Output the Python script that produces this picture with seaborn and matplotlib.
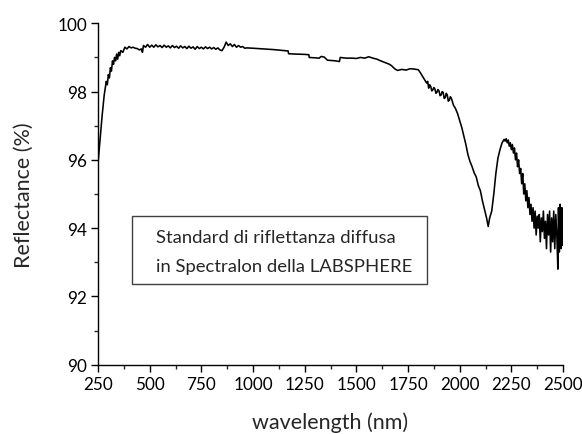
import pandas as pd
import matplotlib.pyplot as plt
import seaborn as sns
from matplotlib.patches import Rectangle
from matplotlib.ticker import MultipleLocator

# 1. 데이터
wavelength = [
    250, 260, 270, 280, 290, 295, 300, 305, 310, 315, 320, 325, 330, 335, 340, 345,
    350, 355, 360, 370, 380, 390, 400, 410, 420, 430, 440, 450, 460, 465, 470, 480,
    490, 500, 510, 520, 530, 540, 550, 560, 570, 580, 590, 600, 610, 620, 630, 640,
    650, 660, 670, 680, 690, 700, 710, 720, 730, 740, 750, 760, 770, 780, 790, 800,
    810, 820, 830, 840, 850, 860, 870, 880, 890, 900, 910, 920, 930, 940, 950, 960,
    970, 1000, 1050, 1100, 1150, 1170, 1172, 1200, 1250, 1270, 1272, 1300, 1320, 1330,
    1345, 1360, 1400, 1418, 1422, 1450, 1480, 1500, 1520, 1540, 1560, 1580, 1600, 1610,
    1640, 1660, 1670, 1680, 1690, 1700, 1720, 1740, 1760, 1780, 1800, 1810, 1820, 1830,
    1840, 1845, 1850, 1855, 1860, 1865, 1870, 1875, 1880, 1885, 1890, 1895, 1900, 1905,
    1910, 1915, 1920, 1925, 1930, 1935, 1940, 1945, 1950, 1955, 1960, 1970,
    1980, 1990, 2000, 2010, 2020, 2030, 2040, 2050, 2060, 2070, 2080, 2090, 2100, 2110,
    2120, 2130, 2138, 2145, 2155, 2165, 2175, 2185, 2195, 2205, 2215, 2220, 2225, 2230,
    2235, 2240, 2245, 2250, 2255, 2260, 2265, 2270, 2275, 2280, 2285, 2290, 2295, 2300,
    2305, 2310, 2315, 2320, 2325, 2330, 2335, 2340, 2345, 2350, 2355, 2360, 2365, 2370,
    2375, 2380, 2385, 2390, 2395, 2400, 2405, 2410, 2415, 2420, 2425, 2430, 2435, 2440,
    2445, 2450, 2455, 2460, 2465, 2470, 2475, 2478, 2482, 2486, 2490, 2494, 2497, 2500,
]
reflectance = [
    95.9, 96.6, 97.3, 97.9, 98.3, 98.2, 98.5, 98.4, 98.7, 98.6, 98.9, 98.8, 99.0, 98.9, 99.1, 98.95,
    99.15, 99.05, 99.2, 99.15, 99.3, 99.25, 99.32, 99.28, 99.3, 99.27, 99.26, 99.22, 99.25, 99.15, 99.35, 99.3,
    99.38, 99.3, 99.36, 99.3, 99.37, 99.31, 99.35, 99.29, 99.36, 99.3, 99.34, 99.28, 99.35, 99.29, 99.33, 99.27,
    99.34, 99.28, 99.32, 99.26, 99.33, 99.27, 99.31, 99.24, 99.32, 99.26, 99.3, 99.25, 99.31, 99.26, 99.3, 99.25,
    99.29, 99.24, 99.28, 99.22, 99.2, 99.3, 99.45, 99.35, 99.4, 99.32, 99.38, 99.3, 99.35, 99.3, 99.32, 99.27,
    99.28, 99.27, 99.25, 99.23, 99.2, 99.19, 99.11, 99.1, 99.09, 99.08, 99.0, 98.99, 98.98, 99.03,
    99.01, 98.92, 98.9, 98.88, 99.0, 98.98, 98.98, 98.97, 99.0, 98.98, 99.02, 98.98, 98.95, 98.92,
    98.85, 98.8, 98.76, 98.7, 98.65, 98.62, 98.65, 98.63, 98.67, 98.66, 98.64, 98.55, 98.45, 98.35,
    98.25, 98.3, 98.1, 98.2, 98.15, 98.02, 98.05, 98.12, 98.08, 97.95, 97.98, 98.06, 98.02, 97.88,
    97.9, 98.0, 97.98, 97.8, 97.82, 97.95, 97.9, 97.72, 97.75, 97.85, 97.8, 97.6,
    97.5, 97.35, 97.15, 96.95, 96.7, 96.45, 96.15, 95.95, 95.8, 95.62, 95.5, 95.25, 95.1, 94.8,
    94.55, 94.3, 94.05, 94.3, 94.5, 95.0, 95.6, 96.05, 96.3, 96.5, 96.6, 96.55, 96.62, 96.5,
    96.58, 96.4, 96.5, 96.3, 96.45, 96.2, 96.35, 96.0, 96.2, 95.8, 96.0, 95.6, 95.75, 95.3,
    95.6, 95.0, 95.3, 94.8, 95.1, 94.6, 94.9, 94.4, 94.7, 94.2, 94.6, 94.0, 94.5, 93.8,
    94.35, 94.0, 94.4, 93.6, 94.3, 93.9, 94.5, 93.7, 94.2, 93.4, 94.4, 93.8, 94.5, 93.3,
    94.3, 93.6, 94.5, 93.4, 94.4, 93.8, 92.8, 94.6, 93.3, 94.7, 93.4, 94.6, 93.5, 94.0,
]
x_ticks = [250, 500, 750, 1000, 1250, 1500, 1750, 2000, 2250, 2500]
y_ticks = [90, 92, 94, 96, 98, 100]
box_lines = ["Standard di riflettanza diffusa", "in Spectralon della LABSPHERE"]

df = pd.DataFrame({"wavelength": wavelength, "reflectance": reflectance})

# 2. 스타일
sns.set_style("ticks")
plt.rcParams["font.family"] = ["Lato", "DejaVu Sans"]

fig = plt.figure(figsize=(5.82, 4.35), dpi=100)
ax = fig.add_axes([0.1684, 0.1593, 0.799, 0.7848])

sns.lineplot(data=df, x="wavelength", y="reflectance", color="black",
             linewidth=1.15, estimator=None, sort=False, ax=ax)

ax.set_xlim(250, 2500)
ax.set_ylim(90, 100)
ax.set_xticks(x_ticks)
ax.set_yticks(y_ticks)
ax.xaxis.set_minor_locator(MultipleLocator(125))
ax.yaxis.set_minor_locator(MultipleLocator(1))
ax.tick_params(which="major", direction="out", length=5, width=1, labelsize=12.3,
               colors="black", pad=3)
ax.tick_params(which="minor", direction="out", length=3, width=1)
for s in ["left", "bottom"]:
    ax.spines[s].set_linewidth(1)
    ax.spines[s].set_color("black")
sns.despine(ax=ax)

ax.set_xlabel("wavelength (nm)", fontsize=15.5, labelpad=14)
ax.set_ylabel("Reflectance (%)", fontsize=15.5, labelpad=17)

# 3. 설명 박스
ax.add_patch(Rectangle((0.0725, 0.2364), 0.6345, 0.2, transform=ax.transAxes,
                       fill=False, edgecolor="#404040", linewidth=1))
ax.text(0.1247, 0.374, box_lines[0], transform=ax.transAxes, fontsize=13.3,
        va="center", ha="left")
ax.text(0.1247, 0.290, box_lines[1], transform=ax.transAxes, fontsize=13.3,
        va="center", ha="left")

fig.savefig("out.png", dpi=100)
